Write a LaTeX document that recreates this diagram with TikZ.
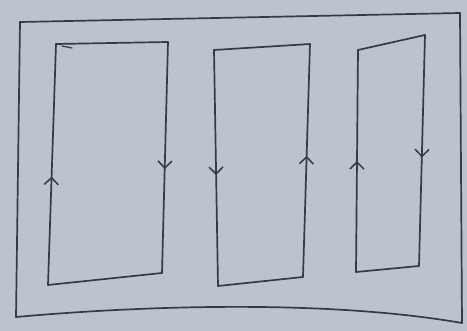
\documentclass[tikz,border=0pt]{standalone}
\usetikzlibrary{arrows.meta,decorations.markings}
\definecolor{paper}{RGB}{188,195,206}
\definecolor{ink}{RGB}{52,58,70}
\tikzset{
  pen/.style={draw=ink,line width=1.7pt,line cap=round,line join=round},
  uparrow/.style={postaction={decorate},decoration={markings,mark=at position #1 with {\arrow{Straight Barb[length=7pt,width=14pt,line width=1.5pt]}}}},
}
\begin{document}
\begin{tikzpicture}[x=1pt,y=-1pt]
\fill[paper] (0,0) rectangle (467,331);
\useasboundingbox (0,0) rectangle (467,331);
% outer frame
\coordinate (o1) at (20,22);
\coordinate (o2) at (460,13);
\coordinate (o3) at (462,323);
\coordinate (o4) at (16,317);
\draw[pen] (o1) -- (o2) -- (o3);
\draw[pen] (o1) -- (o4);
\draw[pen] (o4) .. controls (150,305) and (330,300) .. (o3);
% left rectangle
\coordinate (a1) at (56,44);
\coordinate (a2) at (168,42);
\coordinate (a3) at (162,273);
\coordinate (a4) at (48,285);
\draw[pen] (a1) -- (a2);
\draw[pen,uparrow=0.55] (a2) -- (a3);
\draw[pen] (a3) -- (a4);
\draw[pen,uparrow=0.45] (a4) -- (a1);
\draw[pen,line width=1.2pt] (62,46) -- (72,48);
% middle rectangle
\coordinate (b1) at (214,50);
\coordinate (b2) at (310,44);
\coordinate (b3) at (303,277);
\coordinate (b4) at (218,286);
\draw[pen] (b1) -- (b2);
\draw[pen,uparrow=0.52] (b3) -- (b2);
\draw[pen] (b3) -- (b4);
\draw[pen,uparrow=0.53] (b1) -- (b4);
% right rectangle
\coordinate (c1) at (358,50);
\coordinate (c2) at (425,35);
\coordinate (c3) at (419,266);
\coordinate (c4) at (356,272);
\draw[pen] (c1) -- (c2);
\draw[pen,uparrow=0.53] (c2) -- (c3);
\draw[pen] (c3) -- (c4);
\draw[pen,uparrow=0.5] (c4) -- (c1);
\end{tikzpicture}
\end{document}
